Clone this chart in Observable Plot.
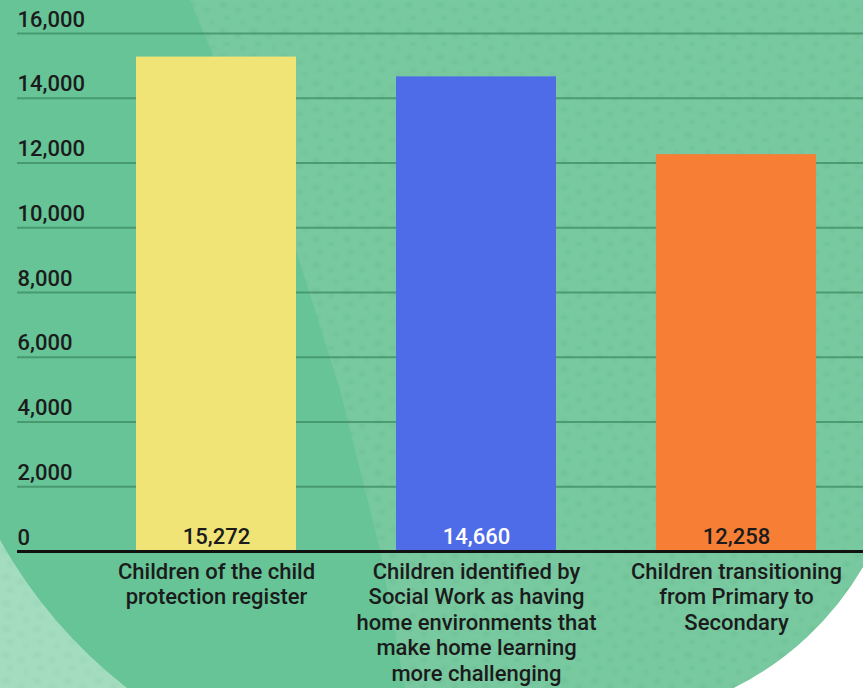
<!DOCTYPE html>
<html>
<head>
<meta charset="utf-8">
<script src="https://cdn.jsdelivr.net/npm/d3@7"></script>
<script src="https://cdn.jsdelivr.net/npm/@observablehq/plot@0.6"></script>
<style>
  body { margin: 0; background: #fff; }
  #wrap { position: relative; width: 863px; height: 688px; overflow: hidden; font-family: Roboto, sans-serif; }
  #bg, #chart { position: absolute; left: 0; top: 0; }
</style>
</head>
<body>
<div id="wrap">
  <!-- decorative backdrop: green panel, lighter sweep, curved cut-outs -->
  <svg id="bg" width="863" height="688" viewBox="0 0 863 688">
    <defs>
      <filter id="soft" x="-50%" y="-50%" width="200%" height="200%">
        <feGaussianBlur stdDeviation="1.6"/>
      </filter>
      <pattern id="dots" width="31" height="26" patternUnits="userSpaceOnUse">
        <g fill="#2f7d56" fill-opacity="0.13" filter="url(#soft)">
          <ellipse cx="6" cy="5" rx="3.4" ry="2.3"/>
          <ellipse cx="21" cy="10" rx="2.8" ry="2.1"/>
          <ellipse cx="10" cy="18" rx="2.6" ry="1.9"/>
          <ellipse cx="26" cy="22" rx="2.2" ry="1.7"/>
        </g>
      </pattern>
    </defs>
    <rect width="863" height="688" fill="#66c497"/>
    <path d="M190,0 L215,60 L250,140 L296,250 L340,390 L380,550 L405,688 L863,688 L863,0 Z" fill="#78c9a0"/>
    <path d="M190,0 L215,60 L250,140 L296,250 L340,390 L380,550 L405,688 L863,688 L863,0 Z" fill="url(#dots)"/>
    <path d="M0,540 A496,496 0 0,0 127,688 L0,688 Z" fill="#a3dcbf"/>
    <path d="M0,540 A496,496 0 0,0 127,688 L0,688 Z" fill="url(#dots)" opacity="0.6"/>
    <path d="M733.7,688 A308,308 0 0,0 863,567 L863,688 Z" fill="#ffffff"/>
  </svg>
  <div id="chart"></div>
</div>
<script>
// Categories, as drawn under the bars (one entry per wrapped line)
const categories = [
  "Children of the child protection register",
  "Children identified by Social Work as having home environments that make home learning more challenging",
  "Children transitioning from Primary to Secondary"
];
const categoryLines = [
  ["Children of the child", "protection register"],
  ["Children identified by", "Social Work as having", "home environments that", "make home learning", "more challenging"],
  ["Children transitioning", "from Primary to", "Secondary"]
];
const counts = [15272, 14660, 12258];
const yTicks = [0, 2000, 4000, 6000, 8000, 10000, 12000, 14000, 16000];

// palette
const barFills = ["#f1e477", "#4f6ce8", "#f67f35"];
const valueInks = ["#1b1b1b", "#ffffff", "#1b1b1b"];

const rows = categories.map((c, i) => ({
  category: c,
  label: categoryLines[i].join("\n"),
  count: counts[i],
  fill: barFills[i],
  ink: valueInks[i]
}));

const fmt = d3.format(",");
const font = 22;

const chart = Plot.plot({
  width: 863,
  height: 688,
  marginTop: 33,
  marginBottom: 137,
  marginLeft: 17,
  marginRight: 0,
  style: { background: "transparent", fontFamily: "Roboto, sans-serif", color: "#1b1b1b" },
  x: { domain: categories, range: [136, 816], paddingInner: 0.385, paddingOuter: 0, axis: null },
  y: { domain: [0, 16000], axis: null },
  color: { type: "identity" },
  marks: [
    Plot.ruleY(yTicks.filter(d => d > 0), { stroke: "#3d8c63", strokeOpacity: 0.75, strokeWidth: 2 }),
    Plot.axisY(yTicks, {
      anchor: "left", tickSize: 0, tickPadding: 0, textAnchor: "start",
      dy: -14, tickFormat: fmt, fontSize: font, fontWeight: 500, fill: "#1b1b1b", label: null
    }),
    Plot.barY(rows, { x: "category", y: "count", fill: "fill" }),
    Plot.ruleY([0], { stroke: "#111", strokeWidth: 3 }),
    Plot.text(rows, {
      x: "category", y: 0, text: d => fmt(d.count), fill: "ink",
      dy: -15, fontSize: font, fontWeight: 500
    }),
    Plot.text(rows, {
      x: "category", y: 0, text: "label", lineAnchor: "top", lineHeight: 1.16,
      dy: 9, fontSize: font, fontWeight: 500, fill: "#1b1b1b"
    })
  ]
});

document.getElementById("chart").appendChild(chart);
</script>
</body>
</html>
